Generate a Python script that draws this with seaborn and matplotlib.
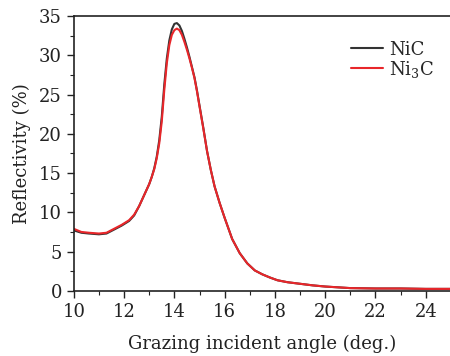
import numpy as np
import pandas as pd
import matplotlib
matplotlib.use('Agg')
import matplotlib.pyplot as plt
import seaborn as sns
from matplotlib.ticker import MultipleLocator

# Data
angle = [10, 10.3, 10.6, 11.0, 11.3, 11.6, 11.9, 12.2, 12.4, 12.6, 12.8, 13.0,
         13.1, 13.2, 13.3, 13.4, 13.5, 13.6, 13.7, 13.8, 13.9, 14.0, 14.1, 14.2,
         14.3, 14.4, 14.5, 14.6, 14.7, 14.8, 14.9, 15.0, 15.15, 15.3, 15.45, 15.6,
         15.8, 16.0, 16.3, 16.6, 16.9, 17.2, 17.5, 17.8, 18.1, 18.5, 19.0, 19.5,
         20, 21, 22, 23, 24, 25]
nic = [7.7, 7.4, 7.3, 7.2, 7.3, 7.8, 8.3, 8.9, 9.6, 10.8, 12.2, 13.6,
       14.5, 15.6, 17.1, 19.2, 22.2, 26.3, 29.6, 31.9, 33.3, 34.0, 34.1, 33.8,
       33.1, 32.1, 31.0, 29.8, 28.5, 27.2, 25.5, 23.6, 20.8, 17.8, 15.4, 13.3,
       11.2, 9.3, 6.6, 4.8, 3.5, 2.6, 2.1, 1.7, 1.35, 1.1, 0.9, 0.7,
       0.55, 0.35, 0.3, 0.3, 0.25, 0.25]
ni3c = [7.9, 7.5, 7.4, 7.3, 7.4, 7.9, 8.4, 9.0, 9.7, 10.8, 12.2, 13.6,
        14.5, 15.5, 16.9, 18.8, 21.6, 25.6, 29.0, 31.3, 32.6, 33.2, 33.4, 33.2,
        32.6, 31.7, 30.7, 29.6, 28.4, 27.1, 25.4, 23.5, 20.7, 17.8, 15.4, 13.3,
        11.2, 9.3, 6.6, 4.8, 3.5, 2.6, 2.1, 1.7, 1.35, 1.1, 0.9, 0.7,
        0.55, 0.35, 0.3, 0.3, 0.25, 0.25]
labels = ['NiC', 'Ni$_3$C']
colors = ['#333333', '#e8262a']

df = pd.DataFrame({
    'angle': angle * 2,
    'refl': nic + ni3c,
    'sample': [labels[0]] * len(angle) + [labels[1]] * len(angle),
})

sns.set_style("ticks")
plt.rcParams['font.family'] = ['DejaVu Serif']
plt.rcParams['mathtext.default'] = 'regular'
plt.rcParams['mathtext.fontset'] = 'dejavuserif'

fig = plt.figure(figsize=(4.5, 3.56), dpi=100)
ax = fig.add_axes([0.164, 0.183, 0.838, 0.772])

sns.lineplot(data=df, x='angle', y='refl', hue='sample',
             palette=dict(zip(labels, colors)), linewidth=1.5, ax=ax)

ax.set_xlim(10, 25)
ax.set_ylim(0, 35)
ax.xaxis.set_major_locator(MultipleLocator(2))
ax.xaxis.set_minor_locator(MultipleLocator(1))
ax.yaxis.set_major_locator(MultipleLocator(5))
ax.yaxis.set_minor_locator(MultipleLocator(2.5))
ax.tick_params(which='major', length=5, width=1, labelsize=13, colors='#222222')
ax.tick_params(which='minor', length=3, width=0.8, colors='#222222')
ax.tick_params(top=False, right=False)

for side in ['left', 'bottom', 'top']:
    ax.spines[side].set_linewidth(1.2)
    ax.spines[side].set_color('#222222')
ax.spines['right'].set_visible(False)

ax.set_xlabel('Grazing incident angle (deg.)', fontsize=13, color='#222222', labelpad=10)
ax.set_ylabel('Reflectivity (%)', fontsize=13, color='#222222', labelpad=6)

leg = ax.legend(loc='upper left', bbox_to_anchor=(0.735, 0.91), frameon=False,
                fontsize=13, handlelength=1.8, handletextpad=0.3,
                labelspacing=0.0, borderpad=0, borderaxespad=0)
leg.set_title(None)

fig.savefig('out.png', dpi=100)
